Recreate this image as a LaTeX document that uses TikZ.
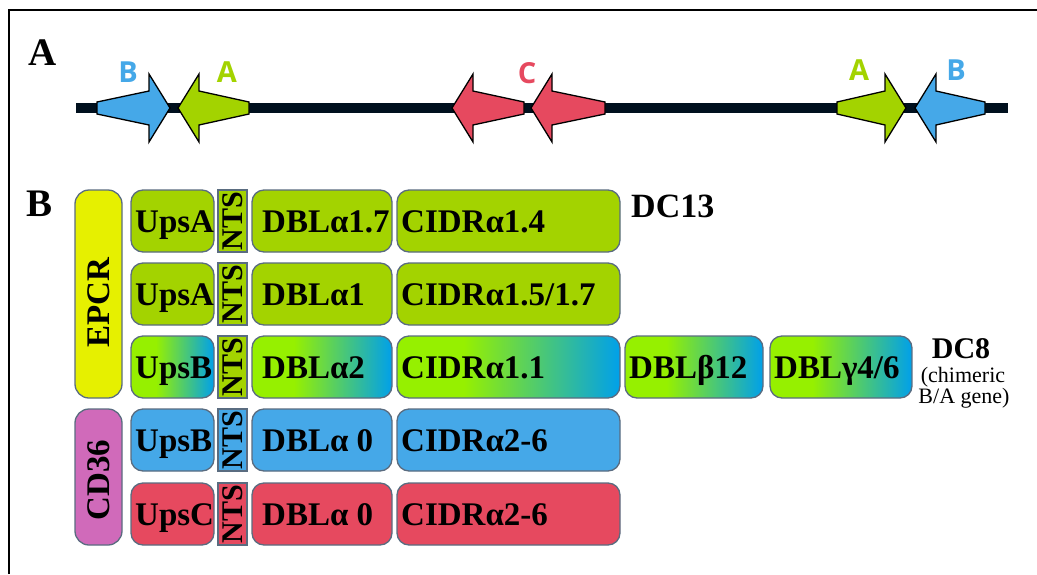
\documentclass[tikz,border=0pt]{standalone}
\usepackage{fontspec}
\setmainfont{Liberation Serif}
\newfontfamily\genefont{Open Sans}
\usetikzlibrary{calc}

\definecolor{genegreen}{HTML}{A3D300}
\definecolor{geneblue}{HTML}{45A8E8}
\definecolor{genered}{HTML}{E6495F}
\definecolor{epcryellow}{HTML}{E6F000}
\definecolor{cdpink}{HTML}{D06ABA}
\definecolor{chromline}{HTML}{00101E}
\definecolor{boxedge}{HTML}{5A6C80}
\definecolor{limemix}{HTML}{96F000}
\definecolor{skymix}{HTML}{00A0EA}

% lime on the left fading into sky blue on the right (chimeric B/A domains)
\pgfdeclarehorizontalshading{chimera}{100bp}{color(0bp)=(limemix); color(25bp)=(limemix); color(40bp)=(limemix); color(75bp)=(skymix); color(100bp)=(skymix)}

\tikzset{
  frameline/.style={draw=black, line width=2pt},
  chromosome/.style={draw=chromline, line width=10pt},
  genearrow/.style={draw=black, line width=1.3pt, line join=miter},
  genelbl/.style={font=\genefont\bfseries\fontsize{29}{29}\selectfont, inner sep=0pt},
  panellbl/.style={font=\bfseries\fontsize{39}{39}\selectfont, inner sep=0pt},
  dombox/.style={draw=boxedge, line width=1.3pt, rounded corners=12pt,
    minimum height=62pt, inner sep=0pt, outer sep=0pt, anchor=north west},
  ntsbox/.style={draw=boxedge, line width=1.3pt, minimum width=29pt,
    minimum height=62pt, inner sep=0pt, outer sep=0pt, anchor=north west},
  domtxt/.style={font=\bfseries\fontsize{33}{33}\selectfont, inner sep=0pt, anchor=base west},
  ntstxt/.style={font=\bfseries\fontsize{30}{30}\selectfont, inner sep=0pt, rotate=90},
  recptxt/.style={font=\bfseries\fontsize{33}{33}\selectfont, inner sep=0pt, rotate=90},
  afill/.style={fill=genegreen},
  bfill/.style={fill=geneblue},
  cfill/.style={fill=genered},
  chimfill/.style={shade, shading=chimera},
  pics/gene/.style n args={2}{code={
    \filldraw[genearrow, fill=#1] (0,-6) -- (#2-21,-17) -- (#2-21,-34) -- (#2,0)
      -- (#2-21,34) -- (#2-21,17) -- (0,6) -- cycle;}}
}

% domain box with its left-aligned label: name, x, top, width, fill, inset, text
\newcommand\pfdomain[7]{%
  \node[dombox,#5,minimum width=#4pt] (#1) at (#2,#3) {};
  \node[domtxt] (#1-txt) at ([xshift=#6pt,yshift=-11pt]#1.west) {#7};}
% NTS segment: name, top, fill
\newcommand\pfnts[3]{%
  \node[ntsbox,#3] (#1) at (218,#2) {};
  \node[ntstxt] (#1-txt) at (#1.center) {NTS};}

\begin{document}
\begin{tikzpicture}[x=1pt,y=-1pt]
\useasboundingbox (0,0) rectangle (1037,574);

% open frame
\coordinate (frameTL) at (9,10);
\coordinate (frameBL) at (9,574);
\coordinate (frameTR) at (1037,10);
\draw[frameline] (frameBL) -- (frameTL) -- (frameTR);

% ---------- panel A: var genes on the chromosome ----------
\node[panellbl] (panelA) at (43,53) {A};
\coordinate (chrL) at (76,108);
\coordinate (chrR) at (1008,108);
\draw[chromosome] (chrL) -- (chrR);

\pic (geneB1) at (97,108) {gene={geneblue}{73}};
\pic[xscale=-1] (geneA1) at (249,108) {gene={genegreen}{71}};
\pic[xscale=-1] (geneC1) at (524,108) {gene={genered}{72}};
\pic[xscale=-1] (geneC2) at (605,108) {gene={genered}{74}};
\pic (geneA2) at (837,108) {gene={genegreen}{69}};
\pic[xscale=-1] (geneB2) at (985,108) {gene={geneblue}{70}};

\node[genelbl, text=geneblue] (lblB1) at (128,72) {B};
\node[genelbl, text=genegreen] (lblA1) at (227,72) {A};
\node[genelbl, text=genered] (lblC) at (527,73) {C};
\node[genelbl, text=genegreen] (lblA2) at (859,70) {A};
\node[genelbl, text=geneblue] (lblB2) at (956,70) {B};

% ---------- panel B: domain architecture ----------
\node[panellbl] (panelB) at (40,204) {B};

\node[dombox, fill=epcryellow, minimum width=47pt, minimum height=208pt, rounded corners=14pt] (epcr) at (75,190) {};
\node[recptxt] (epcr-txt) at ([yshift=-9pt]epcr.center) {EPCR};
\node[dombox, fill=cdpink, minimum width=47pt, minimum height=136pt, rounded corners=14pt] (cd36) at (75,409) {};
\node[recptxt] (cd36-txt) at ([yshift=-3pt]cd36.center) {CD36};

% row 1
\pfdomain{upsA1}{131}{190}{83}{afill}{4}{UpsA}
\pfnts{nts1}{190}{afill}
\pfdomain{dbl1}{252}{190}{140}{afill}{10}{DBLα1.7}
\pfdomain{cidr1}{397}{190}{223}{afill}{4}{CIDRα1.4}
\node[domtxt, font=\bfseries\fontsize{34}{34}\selectfont] (dc13) at (631,217) {DC13};

% row 2
\pfdomain{upsA2}{131}{263}{83}{afill}{4}{UpsA}
\pfnts{nts2}{263}{afill}
\pfdomain{dbl2}{252}{263}{140}{afill}{10}{DBLα1}
\pfdomain{cidr2}{397}{263}{223}{afill}{4}{CIDRα1.5/1.7}

% row 3 (chimeric)
\pfdomain{upsB3}{131}{336}{83}{chimfill}{4}{UpsB}
\pfnts{nts3}{336}{afill}
\pfdomain{dbl3}{252}{336}{140}{chimfill}{10}{DBLα2}
\pfdomain{cidr3}{397}{336}{223}{chimfill}{4}{CIDRα1.1}
\pfdomain{dblb3}{625}{336}{138}{chimfill}{4}{DBLβ12}
\pfdomain{dblg3}{770}{336}{142}{chimfill}{4}{DBLγ4/6}
\node[font=\bfseries\fontsize{30}{30}\selectfont, inner sep=0pt, anchor=base] (dc8) at (961,358) {DC8};
\node[font=\fontsize{22}{22}\selectfont, inner sep=0pt, anchor=base] (dc8a) at (963,382) {(chimeric};
\node[font=\fontsize{22}{22}\selectfont, inner sep=0pt, anchor=base] (dc8b) at (964,403) {B/A gene)};

% row 4
\pfdomain{upsB4}{131}{409}{83}{bfill}{4}{UpsB}
\pfnts{nts4}{409}{bfill}
\pfdomain{dbl4}{252}{409}{140}{bfill}{10}{DBLα 0}
\pfdomain{cidr4}{397}{409}{223}{bfill}{4}{CIDRα2-6}

% row 5
\pfdomain{upsC5}{131}{483}{83}{cfill}{4}{UpsC}
\pfnts{nts5}{483}{cfill}
\pfdomain{dbl5}{252}{483}{140}{cfill}{10}{DBLα 0}
\pfdomain{cidr5}{397}{483}{223}{cfill}{4}{CIDRα2-6}
\end{tikzpicture}
\end{document}
